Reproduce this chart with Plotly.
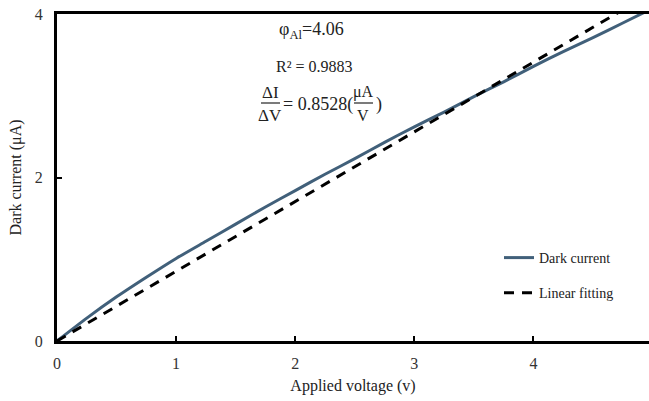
import plotly.graph_objects as go

# Data
voltage = [0, 0.25, 0.5, 0.75, 1.0, 1.25, 1.5, 1.75, 2.0, 2.25, 2.5, 2.75,
           3.0, 3.25, 3.5, 3.75, 4.0, 4.25, 4.5, 4.75, 5.0]
dark_current = [0, 0.28, 0.54, 0.78, 1.01, 1.22, 1.43, 1.64, 1.84, 2.04, 2.23, 2.43,
                2.62, 2.80, 2.99, 3.17, 3.36, 3.54, 3.71, 3.89, 4.07]
fit_voltage = [0, 5.0]
fit_current = [0, 4.264]

x_ticks = [0, 1, 2, 3, 4, 5]
y_ticks = [0, 2, 4]

W, H = 649, 401
L, R, T, B = 57, 0, 14, 60
PW, PH = W - L - R, H - T - B

def px(x):
    return (x - L) / PW

def py(y):
    return (H - B - y) / PH

serif = "Times New Roman, Liberation Serif, DejaVu Serif, serif"
fig = go.Figure()
fig.add_trace(go.Scatter(x=voltage, y=dark_current, mode="lines", name="Dark current",
                         legendgroup="a",
                         line=dict(color="#41607a", width=3, shape="spline", smoothing=0.6)))
fig.add_trace(go.Scatter(x=fit_voltage, y=fit_current, mode="lines", name="Linear fitting",
                         legendgroup="b",
                         line=dict(color="black", width=3, dash="10px,8px")))

axis_common = dict(showgrid=False, zeroline=False, showline=True, linecolor="black",
                   linewidth=3, ticks="inside", ticklen=5, tickwidth=2, tickcolor="black",
                   tickfont=dict(family=serif, size=16, color="#333"))
fig.update_xaxes(range=[0, 4.97], tickvals=x_ticks, mirror=True,
                 ticklabelstandoff=6,
                 title=dict(text="Applied voltage (v)", font=dict(family=serif, size=16, color="#222"),
                            standoff=9),
                 **axis_common)
fig.update_yaxes(range=[0, 4], tickvals=y_ticks,
                 ticklabelstandoff=8,
                 title=dict(text="Dark current (μA)", font=dict(family=serif, size=16, color="#222"),
                            standoff=10),
                 **axis_common)

ann = []
def text(x, y, s, size, anchor="center"):
    ann.append(dict(x=px(x), y=py(y), xref="paper", yref="paper", text=s, showarrow=False,
                    xanchor=anchor, yanchor="middle",
                    font=dict(family=serif, size=size, color="#222")))

text(311, 31, "φ<sub>Al</sub>=4.06", 18)
text(314, 66, "R² = 0.9883", 16)
text(270, 92, "ΔI", 17)
text(270, 115, "ΔV", 17)
text(281, 104, "= 0.8528(", 18, "left")
text(363, 92, "μA", 16)
text(363, 115, "V", 16)
text(374, 104, ")", 18, "left")
fig.update_layout(annotations=ann)

shapes = [
    dict(type="line", xref="paper", yref="paper", x0=px(261), x1=px(280), y0=py(103), y1=py(103),
         line=dict(color="#222", width=1.2)),
    dict(type="line", xref="paper", yref="paper", x0=px(354), x1=px(373), y0=py(103), y1=py(103),
         line=dict(color="#222", width=1.2)),
]
fig.update_layout(shapes=shapes)

fig.update_layout(
    width=W, height=H,
    margin=dict(l=L, r=R, t=T, b=B),
    plot_bgcolor="white", paper_bgcolor="white",
    legend=dict(x=px(499), y=py(242), xanchor="left", yanchor="top",
                bgcolor="rgba(0,0,0,0)", tracegroupgap=14,
                font=dict(family=serif, size=14, color="#222")),
)
fig.write_html("out.html")
